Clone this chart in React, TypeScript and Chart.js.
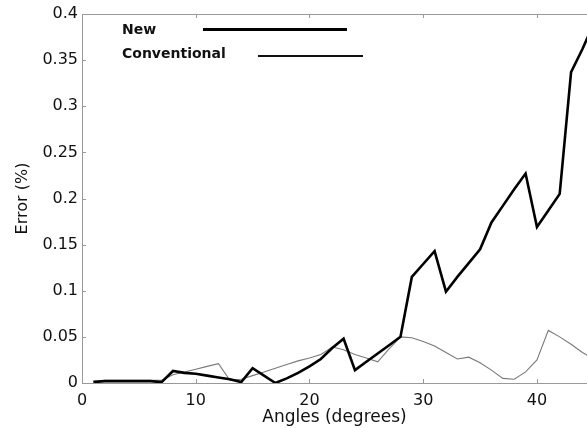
import { useEffect, useRef } from 'react';
import { Chart, registerables } from 'chart.js';

Chart.register(...registerables);

const FONT = '"DejaVu Sans", "Liberation Sans", sans-serif';

const angles = [1, 2, 3, 4, 5, 6, 7, 8, 9, 10, 11, 12, 13, 14, 15, 16, 17, 18, 19, 20, 21, 22, 23, 24, 25, 26, 27, 28, 29, 30, 31, 32, 33, 34, 35, 36, 37, 38, 39, 40, 41, 42, 43, 44, 45];

const newError = [0.001, 0.002, 0.002, 0.002, 0.002, 0.002, 0.001, 0.013, 0.011, 0.010, 0.008, 0.006, 0.004, 0.001, 0.016, 0.008, 0.000, 0.005, 0.011, 0.018, 0.026, 0.038, 0.048, 0.014, 0.023, 0.032, 0.041, 0.050, 0.115, 0.129, 0.143, 0.099, 0.115, 0.130, 0.145, 0.174, 0.192, 0.210, 0.227, 0.169, 0.187, 0.205, 0.337, 0.362, 0.390];

const conventionalError = [0.002, 0.003, 0.003, 0.003, 0.003, 0.003, 0.003, 0.009, 0.012, 0.015, 0.018, 0.021, 0.003, 0.004, 0.008, 0.012, 0.016, 0.020, 0.024, 0.027, 0.031, 0.039, 0.036, 0.031, 0.027, 0.023, 0.037, 0.050, 0.049, 0.045, 0.040, 0.033, 0.026, 0.028, 0.022, 0.014, 0.005, 0.004, 0.012, 0.025, 0.057, 0.050, 0.042, 0.033, 0.026];

const xTicks = [0, 10, 20, 30, 40];
const yTicks = [0, 0.05, 0.1, 0.15, 0.2, 0.25, 0.3, 0.35, 0.4];

const seriesNames = ['New', 'Conventional'];

export default function App() {
  const ref = useRef<HTMLCanvasElement>(null);

  useEffect(() => {
    if (!ref.current) return;

    const framePlugin = {
      id: 'frame',
      afterDatasetsDraw(chart: any) {
        const { ctx, chartArea: a, scales } = chart;
        ctx.save();
        ctx.strokeStyle = '#999';
        ctx.lineWidth = 1;
        ctx.beginPath();
        ctx.moveTo(a.left, a.top + 0.5);
        ctx.lineTo(a.right, a.top + 0.5);
        for (const v of xTicks) {
          if (v === 0) continue;
          const x = Math.round(scales.x.getPixelForValue(v)) + 0.5;
          ctx.moveTo(x, a.top);
          ctx.lineTo(x, a.top + 4);
          ctx.moveTo(x, a.bottom);
          ctx.lineTo(x, a.bottom - 4);
        }
        for (const v of yTicks) {
          if (v === 0 || v === 0.4) continue;
          const y = Math.round(scales.y.getPixelForValue(v)) + 0.5;
          ctx.moveTo(a.left, y);
          ctx.lineTo(a.left + 4, y);
        }
        ctx.stroke();

        // legend
        ctx.fillStyle = '#111';
        ctx.font = 'bold 14px ' + FONT;
        ctx.textBaseline = 'middle';
        ctx.textAlign = 'left';
        ctx.fillText(seriesNames[0], 122, 30);
        ctx.fillText(seriesNames[1], 122, 54);
        ctx.strokeStyle = '#000';
        ctx.lineWidth = 3;
        ctx.beginPath();
        ctx.moveTo(203, 29.5);
        ctx.lineTo(347, 29.5);
        ctx.stroke();
        ctx.lineWidth = 2;
        ctx.strokeStyle = '#111';
        ctx.beginPath();
        ctx.moveTo(258, 56);
        ctx.lineTo(363, 56);
        ctx.stroke();
        ctx.restore();
      },
    };

    const chart = new Chart(ref.current, {
      type: 'line',
      data: {
        datasets: [
          {
            label: seriesNames[0],
            data: angles.map((x, i) => ({ x, y: newError[i] })),
            borderColor: '#000',
            borderWidth: 2.6,
            pointRadius: 0,
            tension: 0,
            fill: false,
          },
          {
            label: seriesNames[1],
            data: angles.map((x, i) => ({ x, y: conventionalError[i] })),
            borderColor: '#7a7a7a',
            borderWidth: 1.1,
            pointRadius: 0,
            tension: 0,
            fill: false,
          },
        ],
      },
      plugins: [framePlugin],
      options: {
        animation: false,
        responsive: false,
        layout: { padding: { top: 14, left: 0, right: 0, bottom: 0 } },
        plugins: {
          legend: { display: false },
          tooltip: { enabled: false },
        },
        scales: {
          x: {
            type: 'linear',
            min: 0,
            max: 44.4,
            afterBuildTicks: (s: any) => {
              s.ticks = xTicks.map((value) => ({ value }));
            },
            afterFit: (s: any) => {
              s.height = 45;
            },
            grid: { drawOnChartArea: false, drawTicks: false },
            border: { display: true, color: '#999', width: 1 },
            ticks: {
              padding: 8,
              color: '#111',
              font: { family: FONT, size: 16 },
              maxRotation: 0,
            },
            title: {
              display: true,
              text: 'Angles (degrees)',
              color: '#111',
              font: { family: FONT, size: 17 },
              padding: { top: 0, bottom: 0 },
            },
          },
          y: {
            type: 'linear',
            min: 0,
            max: 0.4,
            afterBuildTicks: (s: any) => {
              s.ticks = yTicks.map((value) => ({ value }));
            },
            afterFit: (s: any) => {
              s.width = 82;
            },
            grid: { drawOnChartArea: false, drawTicks: false },
            border: { display: true, color: '#999', width: 1 },
            ticks: {
              padding: 4,
              color: '#111',
              font: { family: FONT, size: 16 },
              callback: (v: any) => String(Number(Number(v).toFixed(2))),
            },
            title: {
              display: true,
              text: 'Error (%)',
              color: '#111',
              font: { family: FONT, size: 16 },
              padding: { top: 13, bottom: 0 },
            },
          },
        },
      },
    });

    return () => chart.destroy();
  }, []);

  return (
    <div style={{ position: 'absolute', left: 0, top: 0, width: 587, height: 428, background: '#fff' }}>
      <canvas ref={ref} width={587} height={428} />
    </div>
  );
}
